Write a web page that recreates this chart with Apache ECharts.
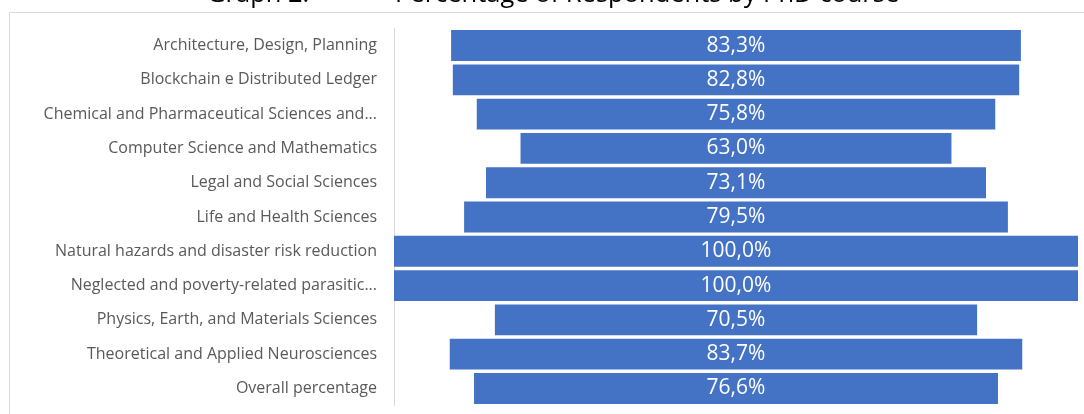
<!DOCTYPE html>
<html><head><meta charset="utf-8">
<script src="https://cdn.jsdelivr.net/npm/echarts@6/dist/echarts.min.js"></script>
<style>html,body{margin:0;padding:0;background:#fff}#c{width:1084px;height:414px}</style>
</head><body><div id="c"></div>
<script>
var categories = [
  "Architecture, Design, Planning",
  "Blockchain e Distributed Ledger",
  "Chemical and Pharmaceutical Sciences and...",
  "Computer Science and Mathematics",
  "Legal and Social Sciences",
  "Life and Health Sciences",
  "Natural hazards and disaster risk reduction",
  "Neglected and poverty-related parasitic...",
  "Physics, Earth, and Materials Sciences",
  "Theoretical and Applied Neurosciences",
  "Overall percentage"
];
var percentages = [83.3, 82.8, 75.8, 63.0, 73.1, 79.5, 100.0, 100.0, 70.5, 83.7, 76.6];
var offsets = percentages.map(function(v){ return (100 - v) / 2; });
var titleLeft = "Graph 2.";
var titleRight = "Percentage of Respondents by PhD course";

var chart = echarts.init(document.getElementById('c'), null, {renderer:'canvas'});
var FONT = '"Open Sans"';
chart.setOption({
  animation: false,
  grid: {left: 394, right: 6, top: 28.4, bottom: 8.4, containLabel: false},
  xAxis: {type: 'value', min: 0, max: 100, show: false},
  yAxis: {
    type: 'category', data: categories, inverse: true,
    axisLine: {show: true, lineStyle: {color: '#d9d9d9', width: 1}},
    axisTick: {show: false},
    axisLabel: {color: '#595959', fontFamily: FONT, fontSize: 16, margin: 17}
  },
  graphic: [
    {type: 'rect', shape: {x: 9.5, y: 12.5, width: 1090, height: 420}, style: {fill: 'none', stroke: '#d9d9d9', lineWidth: 1}, z: -1},
    {type: 'text', left: 207, top: -18, style: {text: titleLeft, font: '25.5px ' + FONT, fill: '#000'}},
    {type: 'text', left: 395, top: -18, style: {text: titleRight, font: '25.5px ' + FONT, fill: '#000'}}
  ],
  series: [
    {type: 'bar', stack: 'f', data: offsets, itemStyle: {color: 'transparent'}, barWidth: '90%', silent: true},
    {type: 'bar', stack: 'f', data: percentages, barWidth: '90%',
      itemStyle: {color: '#4472C4'},
      label: {show: true, position: 'inside', color: '#fff', fontFamily: FONT, fontSize: 21,
        formatter: function(p){ return p.value.toFixed(1).replace('.', ',') + '%'; }}
    }
  ]
});
</script></body></html>
